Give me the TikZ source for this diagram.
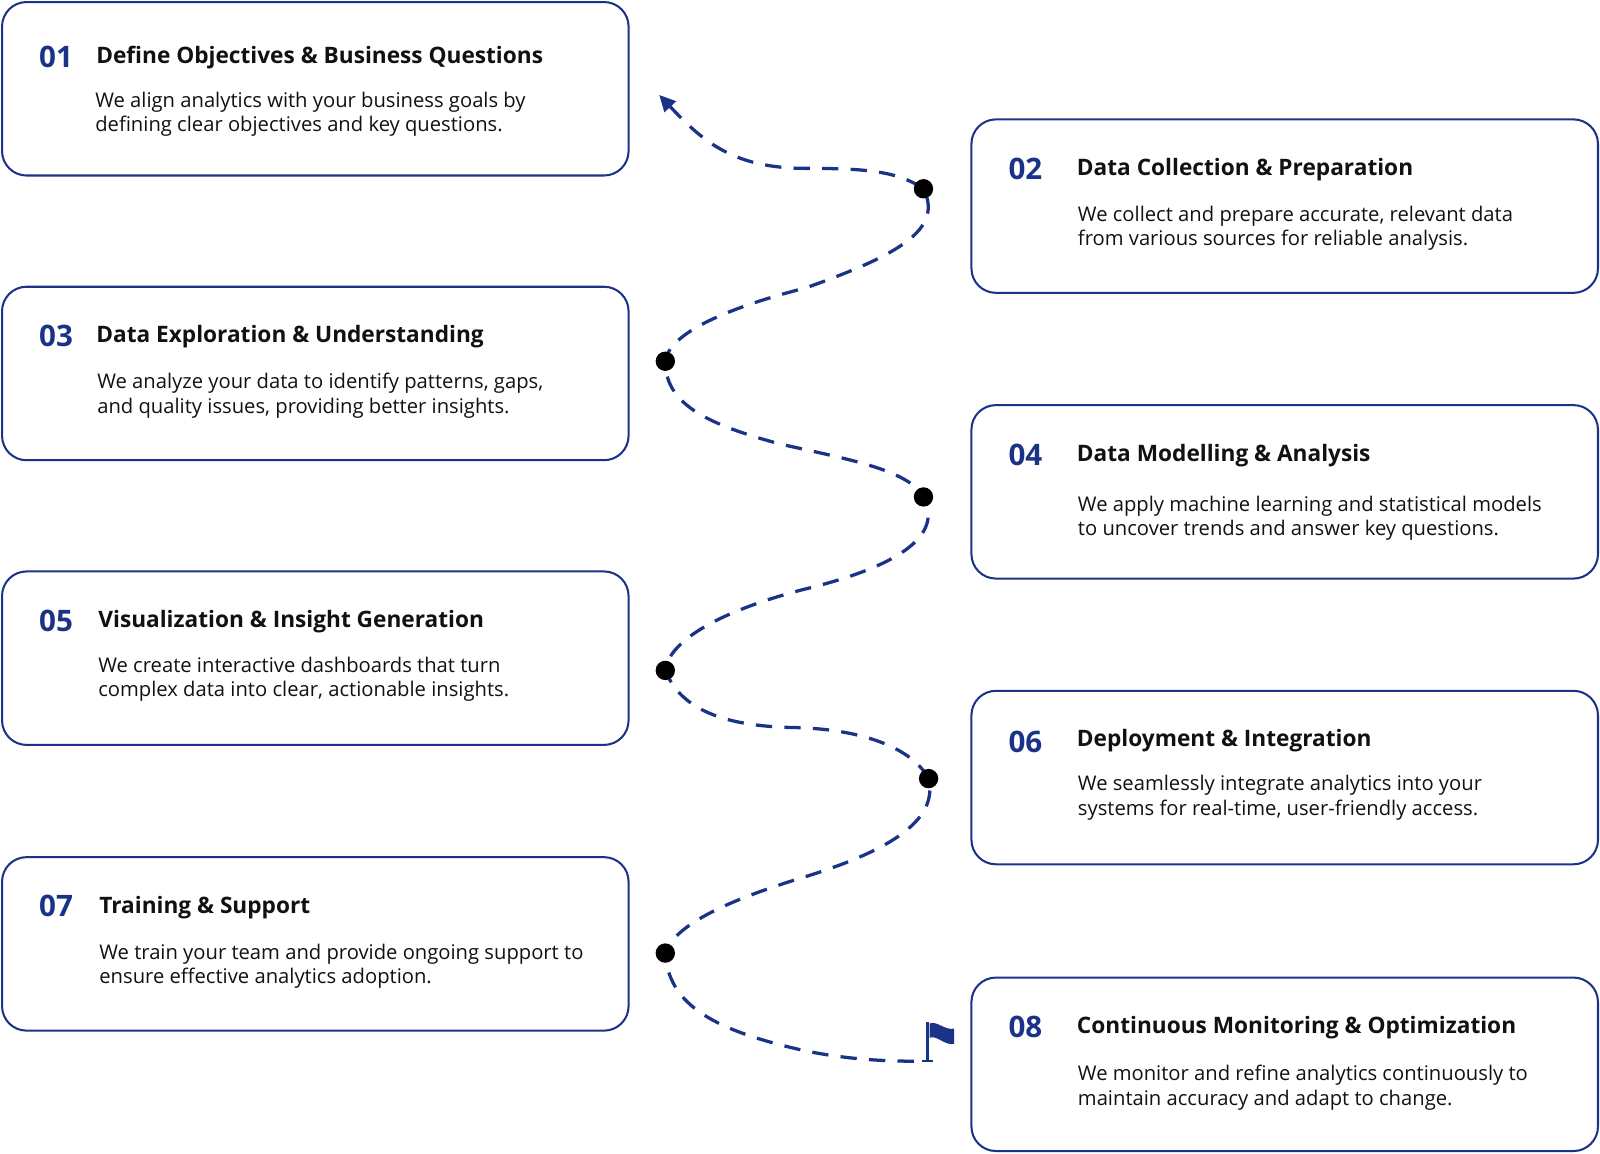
\documentclass[tikz,border=0pt]{standalone}
\usepackage{fontspec}
\setmainfont{Open Sans}
\usetikzlibrary{arrows.meta}
\usetikzlibrary{positioning}
\definecolor{navy}{RGB}{27,51,135}
\definecolor{ink}{RGB}{17,17,17}

\begin{document}
\begin{tikzpicture}[x=0.5pt,y=-0.5pt,
  step box/.style={rectangle,draw=navy,line width=1pt,rounded corners=12pt,minimum width=307pt,minimum height=85pt,inner sep=0.,outer sep=0.,anchor=north west},
  step num/.style={anchor=base west,inner sep=0.,text=navy,font=\bfseries\fontsize{14.5}{16}\selectfont},
  step title/.style={anchor=base west,inner sep=0.,text=ink,font=\bfseries\fontsize{11.1}{13}\selectfont},
  step text/.style={anchor=base west,inner sep=0.,align=left,text=ink,font=\fontsize{9.9}{12}\selectfont},
  dot/.style={circle,fill=black,minimum size=9.5pt,inner sep=0.},
  route/.style={draw=navy,line width=1.6pt,dash pattern=on 8pt off 6pt}]%
  \useasboundingbox (0,0) rectangle (1568,1130);
  \node[step box] (box1) at (2,2) {};
  \node[step box] (box2) at (952,117) {};
  \node[step box] (box3) at (2,281) {};
  \node[step box] (box4) at (952,397) {};
  \node[step box] (box5) at (2,560) {};
  \node[step box] (box6) at (952,677) {};
  \node[step box] (box7) at (2,840) {};
  \node[step box] (box8) at (952,958) {};
  \node[step num] (num1) at (38,66) {01};
  \node[step title] (title1) at (94,62) {Define Objectives \& Business Questions};
  \node[step text] (text1) at (93,129) {We align analytics with your business goals by\\defining clear objectives and key questions.};
  \node[step num] (num2) at (988,176) {02};
  \node[step title] (title2) at (1055,172) {Data Collection \& Preparation};
  \node[step text] (text2) at (1056,241) {We collect and prepare accurate, relevant data\\from various sources for reliable analysis.};
  \node[step num] (num3) at (38,340) {03};
  \node[step title] (title3) at (94,336) {Data Exploration \& Understanding};
  \node[step text] (text3) at (95,405) {We analyze your data to identify patterns, gaps,\\and quality issues, providing better insights.};
  \node[step num] (num4) at (988,456) {04};
  \node[step title] (title4) at (1055,452) {Data Modelling \& Analysis};
  \node[step text] (text4) at (1056,525) {We apply machine learning and statistical models\\to uncover trends and answer key questions.};
  \node[step num] (num5) at (38,619) {05};
  \node[step title] (title5) at (96,615) {Visualization \& Insight Generation};
  \node[step text] (text5) at (96,683) {We create interactive dashboards that turn\\complex data into clear, actionable insights.};
  \node[step num] (num6) at (988,737) {06};
  \node[step title] (title6) at (1055,732) {Deployment \& Integration};
  \node[step text] (text6) at (1056,799) {We seamlessly integrate analytics into your\\systems for real-time, user-friendly access.};
  \node[step num] (num7) at (38,898) {07};
  \node[step title] (title7) at (97,895) {Training \& Support};
  \node[step text] (text7) at (97,964) {We train your team and provide ongoing support to\\ensure effective analytics adoption.};
  \node[step num] (num8) at (988,1017) {08};
  \node[step title] (title8) at (1055,1013) {Continuous Monitoring \& Optimization};
  \node[step text] (text8) at (1056,1083) {We monitor and refine analytics continuously to\\maintain accuracy and adapt to change.};
  % winding route
  \coordinate (start) at (646,93);
  \coordinate (p1) at (905,185);
  \coordinate (p2) at (652,354);
  \coordinate (p3) at (905,487);
  \coordinate (p4) at (652,657);
  \coordinate (p5) at (910,763);
  \coordinate (p6) at (652,934);
  \coordinate (flag) at (905,1040);
  \draw[route,{Triangle[length=8pt,width=7.5pt]}-] (start)
    .. controls (690,140) and (720,165) .. (790,165)
    .. controls (850,165) and (880,168) .. (p1)
    .. controls (925,225) and (880,250) .. (790,282)
    .. controls (700,305) and (655,330) .. (p2)
    .. controls (652,395) and (690,415) .. (764,435)
    .. controls (830,450) and (890,460) .. (p3)
    .. controls (925,525) and (880,555) .. (790,577)
    .. controls (700,600) and (655,630) .. (p4)
    .. controls (665,690) and (700,712) .. (780,713)
    .. controls (850,715) and (895,735) .. (p5)
    .. controls (920,805) and (870,835) .. (780,862)
    .. controls (700,887) and (660,910) .. (p6)
    .. controls (655,985) and (700,1010) .. (790,1030)
    .. controls (840,1040) and (880,1040) .. (flag);
  \node[dot] (d1) at (p1) {};
  \node[dot] (d2) at (p2) {};
  \node[dot] (d3) at (p3) {};
  \node[dot] (d4) at (p4) {};
  \node[dot] (d5) at (p5) {};
  \node[dot] (d6) at (p6) {};
  % flag
  \draw[navy,line width=1.2pt] (909,1002)--(909,1040);
  \draw[navy,line width=1.2pt] (904,1040)--(914,1040);
  \fill[navy] (911,1003) .. controls (918,1000) and (926,1010) .. (935,1008)
    -- (935,1023) .. controls (926,1025) and (918,1014) .. (911,1017) -- cycle;
\end{tikzpicture}
\end{document}
